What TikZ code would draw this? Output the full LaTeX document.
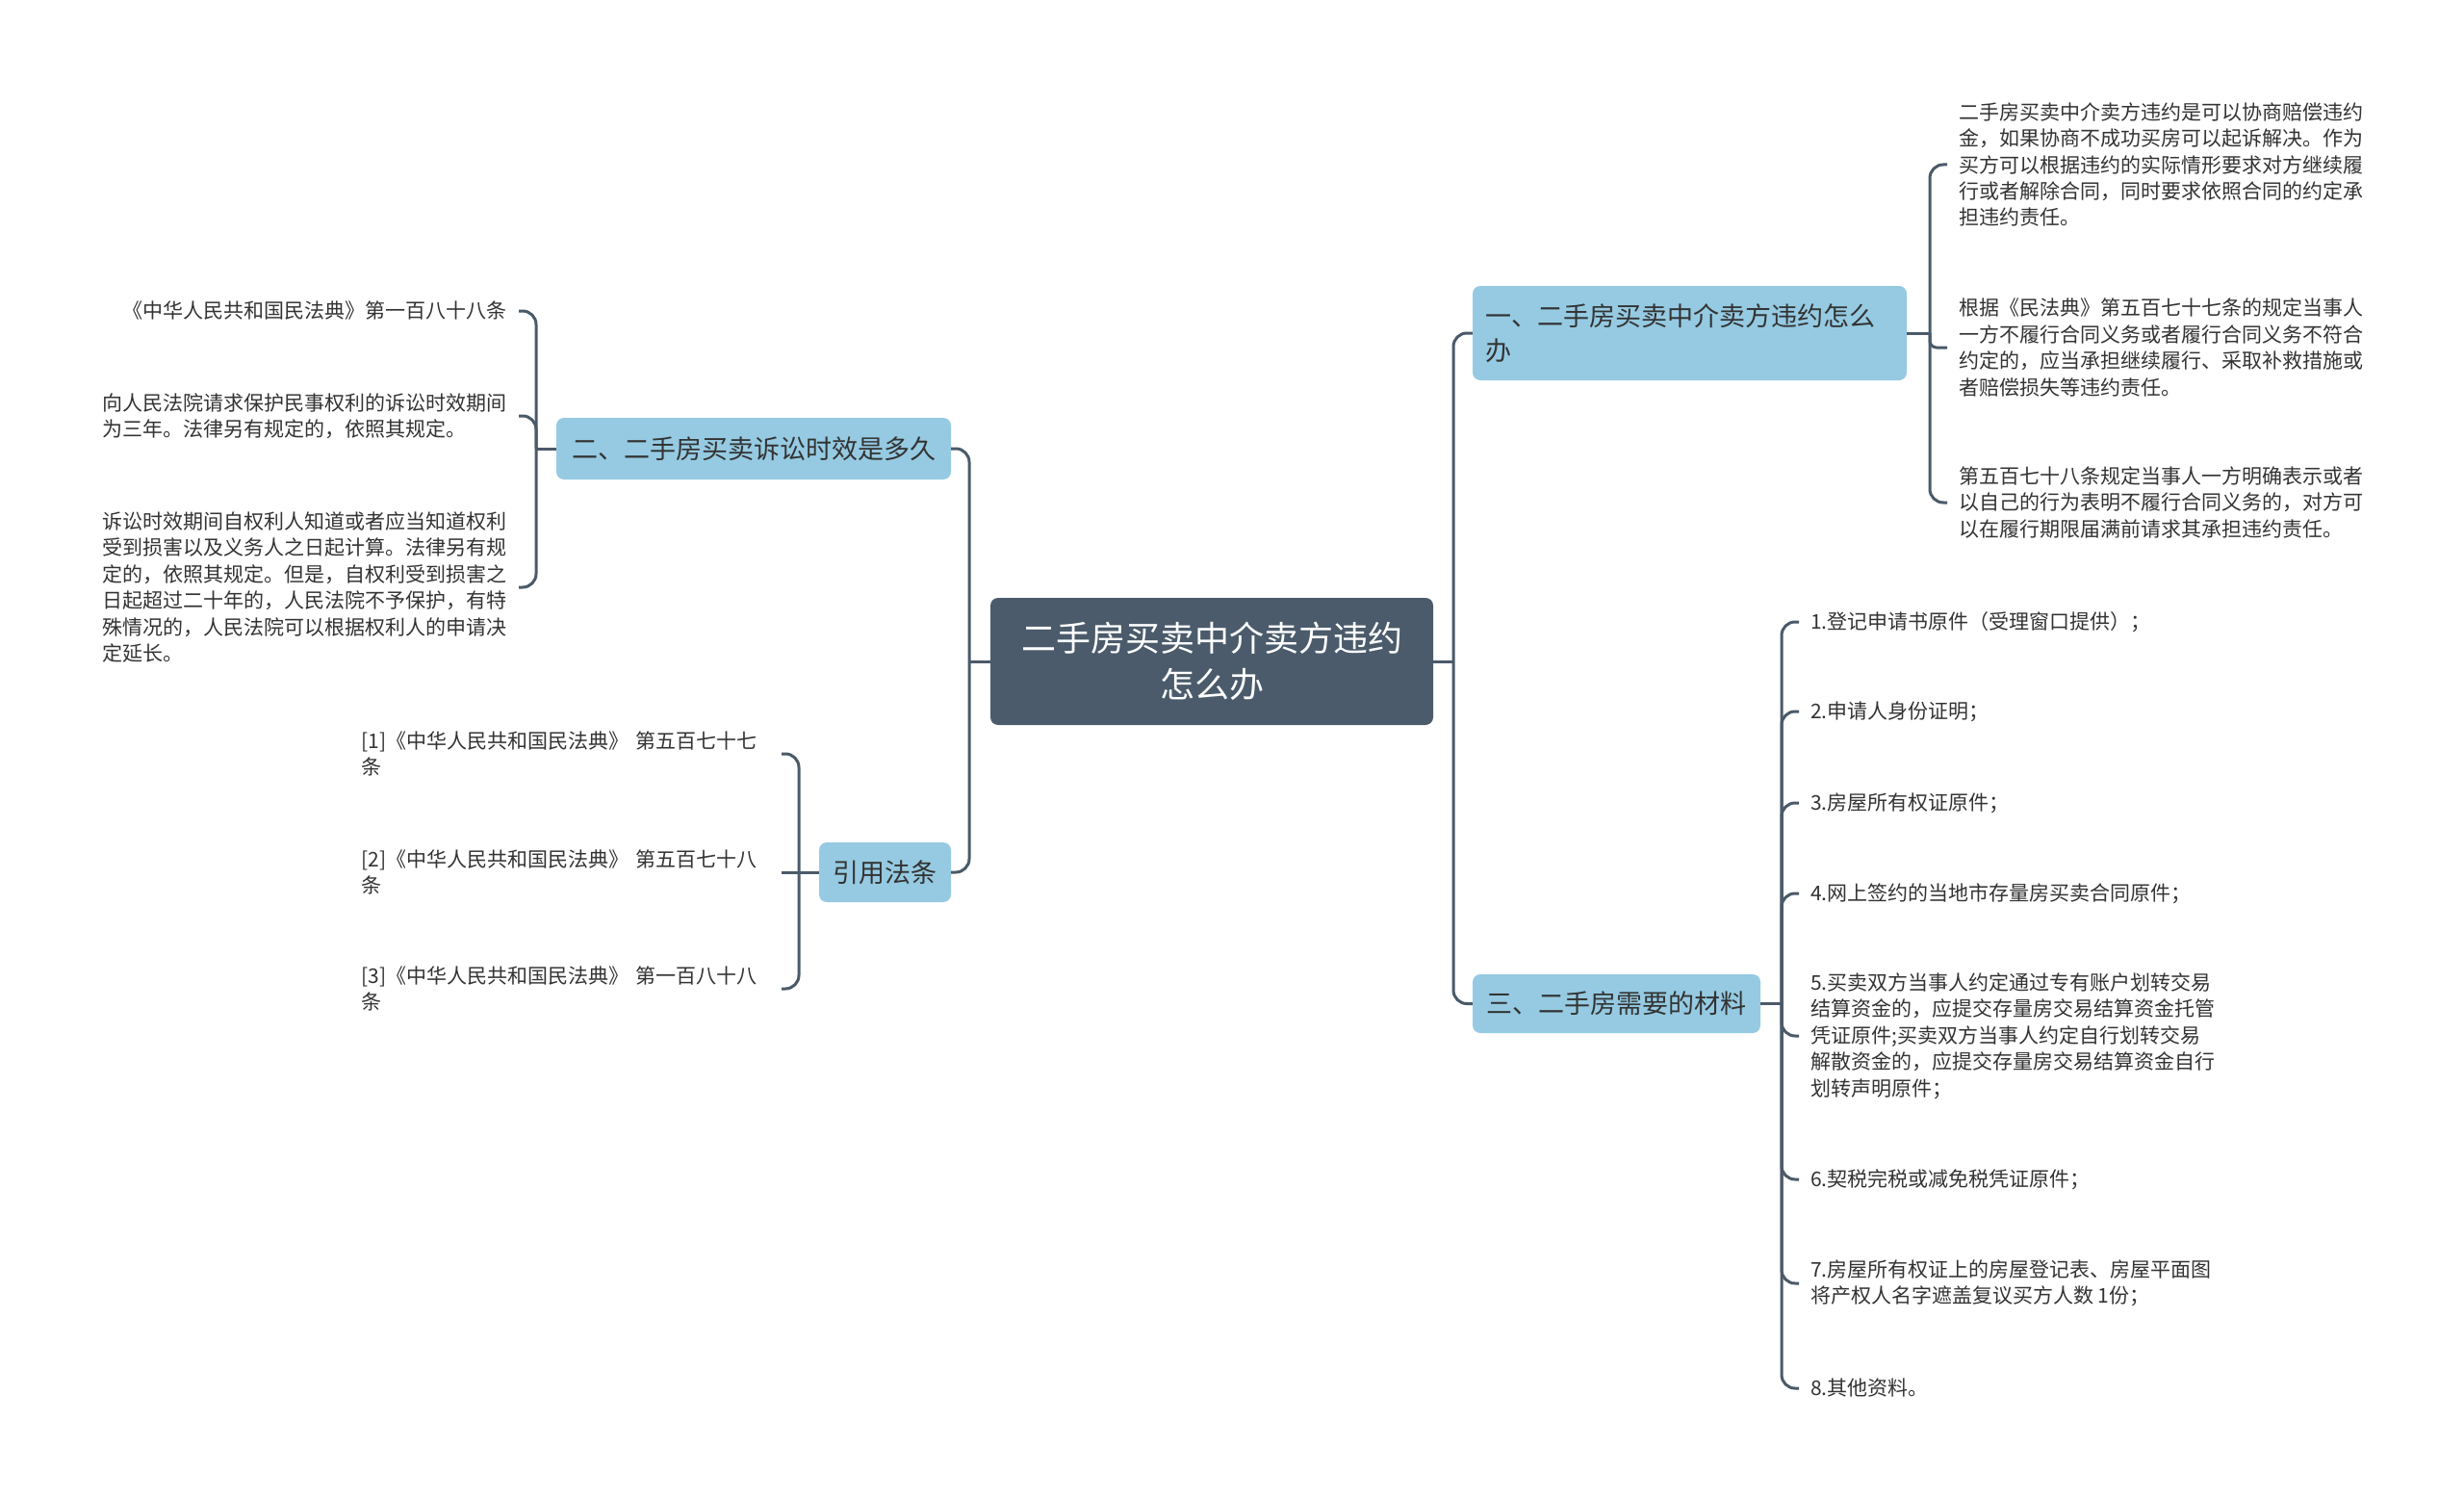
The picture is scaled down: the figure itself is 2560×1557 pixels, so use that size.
\documentclass[tikz,border=0pt]{standalone}
\usepackage{fontspec}
\setmainfont{Noto Sans CJK SC}
\usetikzlibrary{calc}
\definecolor{conncol}{HTML}{4B5A69}
\definecolor{rootfill}{HTML}{4B5B6B}
\definecolor{branchfill}{HTML}{95CAE2}
\definecolor{txt}{HTML}{333333}
\tikzset{
  conn/.style={draw=conncol, line width=3pt, rounded corners=14pt},
  rootbox/.style={fill=rootfill, rounded corners=8pt, text=white, font=\fontsize{36}{48}\selectfont, align=center, minimum width=460pt, minimum height=132pt, inner sep=0pt},
  branchbox/.style={fill=branchfill, rounded corners=8pt, text=txt, font=\fontsize{27}{36}\selectfont, inner sep=0pt},
  leaf/.style={text=txt, font=\fontsize{21}{27.4}\selectfont, align=left, inner xsep=12pt, inner ysep=2pt},
}
\begin{document}
\begin{tikzpicture}[x=1pt,y=-1pt]
\useasboundingbox[fill=white] (0,0) rectangle (2560,1557);

% root and branches
\node[rootbox] (root) at (1259,687) {二手房买卖中介卖方违约\\怎么办};
\node[branchbox, minimum width=451pt, minimum height=98pt, text width=425pt, align=left, inner xsep=13pt] (b1) at (1755.5,346) {一、二手房买卖中介卖方违约怎么\\办};
\node[branchbox, minimum width=410pt, minimum height=64pt] (b2) at (783,466) {二、二手房买卖诉讼时效是多久};
\node[branchbox, minimum width=137pt, minimum height=62pt] (b4) at (919.5,906) {引用法条};
\node[branchbox, minimum width=299pt, minimum height=61pt] (b3) at (1679.5,1042.5) {三、二手房需要的材料};

\coordinate (rs) at (1510,687);
\coordinate (ls) at (1007,687);
\draw[conn] (root.east) -- (rs);
\draw[conn] (rs) |- (b1.west);
\draw[conn] (rs) |- (b3.west);
\draw[conn] (root.west) -- (ls);
\draw[conn] (ls) |- (b2.east);
\draw[conn] (ls) |- (b4.east);

% branch 1 leaves
\node[leaf, anchor=west] (l11) at (2023,171) {二手房买卖中介卖方违约是可以协商赔偿违约\\金，如果协商不成功买房可以起诉解决。作为\\买方可以根据违约的实际情形要求对方继续履\\行或者解除合同，同时要求依照合同的约定承\\担违约责任。};
\node[leaf, anchor=west] (l12) at (2023,361) {根据《民法典》第五百七十七条的规定当事人\\一方不履行合同义务或者履行合同义务不符合\\约定的，应当承担继续履行、采取补救措施或\\者赔偿损失等违约责任。};
\node[leaf, anchor=west] (l13) at (2023,522) {第五百七十八条规定当事人一方明确表示或者\\以自己的行为表明不履行合同义务的，对方可\\以在履行期限届满前请求其承担违约责任。};
\coordinate (s1) at (2005,346);
\draw[conn] (b1.east) -- (s1);
\draw[conn] (s1) |- (l11.west);
\draw[conn, rounded corners=7pt] (s1) |- (l12.west);
\draw[conn] (s1) |- (l13.west);

% branch 2 leaves
\node[leaf, anchor=east] (l21) at (539,323) {《中华人民共和国民法典》第一百八十八条};
\node[leaf, anchor=east] (l22) at (539,432) {向人民法院请求保护民事权利的诉讼时效期间\\为三年。法律另有规定的，依照其规定。};
\node[leaf, anchor=east] (l23) at (539,610) {诉讼时效期间自权利人知道或者应当知道权利\\受到损害以及义务人之日起计算。法律另有规\\定的，依照其规定。但是，自权利受到损害之\\日起超过二十年的，人民法院不予保护，有特\\殊情况的，人民法院可以根据权利人的申请决\\定延长。};
\coordinate (s2) at (557,466);
\draw[conn] (b2.west) -- (s2);
\draw[conn] (s2) |- (l21.east);
\draw[conn] (s2) |- (l22.east);
\draw[conn] (s2) |- (l23.east);

% cited laws leaves
\node[leaf, anchor=east, text width=424pt] (l41) at (812,783) {[1]《中华人民共和国民法典》 第五百七十七\\条};
\node[leaf, anchor=east, text width=424pt] (l42) at (812,906) {[2]《中华人民共和国民法典》 第五百七十八\\条};
\node[leaf, anchor=east, text width=424pt] (l43) at (812,1027) {[3]《中华人民共和国民法典》 第一百八十八\\条};
\coordinate (s4) at (830,906);
\draw[conn] (b4.west) -- (s4);
\draw[conn] (s4) |- (l41.east);
\draw[conn] (s4) -- (l42.east);
\draw[conn] (s4) |- (l43.east);

% branch 3 leaves
\node[leaf, anchor=west] (l31) at (1869,646) {1.登记申请书原件（受理窗口提供）；};
\node[leaf, anchor=west] (l32) at (1869,739) {2.申请人身份证明；};
\node[leaf, anchor=west] (l33) at (1869,834) {3.房屋所有权证原件；};
\node[leaf, anchor=west] (l34) at (1869,928) {4.网上签约的当地市存量房买卖合同原件；};
\node[leaf, anchor=west] (l35) at (1869,1076) {5.买卖双方当事人约定通过专有账户划转交易\\结算资金的，应提交存量房交易结算资金托管\\凭证原件;买卖双方当事人约定自行划转交易\\解散资金的，应提交存量房交易结算资金自行\\划转声明原件；};
\node[leaf, anchor=west] (l36) at (1869,1225) {6.契税完税或减免税凭证原件；};
\node[leaf, anchor=west] (l37) at (1869,1333) {7.房屋所有权证上的房屋登记表、房屋平面图\\将产权人名字遮盖复议买方人数 1份；};
\node[leaf, anchor=west] (l38) at (1869,1442) {8.其他资料。};
\coordinate (s3) at (1851,1042.5);
\draw[conn] (b3.east) -- (s3);
\foreach \n in {l31,l32,l33,l34,l35,l36,l37,l38} {
  \draw[conn] (s3) |- (\n.west);
}
\end{tikzpicture}
\end{document}
